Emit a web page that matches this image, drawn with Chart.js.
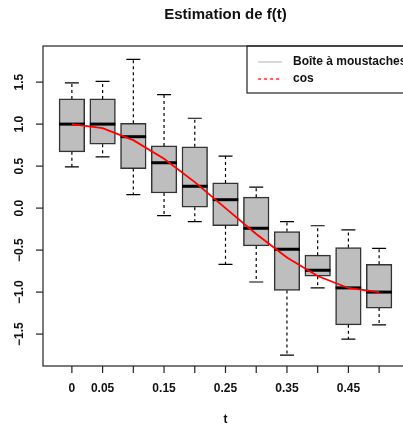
<!DOCTYPE html>
<html>
<head>
<meta charset="utf-8">
<script src="https://cdn.jsdelivr.net/npm/chart.js@4.4.0/dist/chart.umd.min.js"></script>
<style>
  html, body { margin: 0; padding: 0; background: #fff; overflow: hidden; }
  .wrap { width: 403px; height: 428px; overflow: hidden; }
</style>
</head>
<body>
<div class="wrap"><canvas id="myChart" width="410" height="428"></canvas></div>
<script>
// t values (one box per value) and the tick labels R kept on the axis
const tValues = ["0", "0.05", "0.1", "0.15", "0.2", "0.25", "0.3", "0.35", "0.4", "0.45", "0.5"];
const tickLabels = ["0", "0.05", "", "0.15", "", "0.25", "", "0.35", "", "0.45", ""];

// box statistics
const whiskerLow = [0.49, 0.61, 0.16, -0.09, -0.16, -0.67, -0.88, -1.75, -0.95, -1.56, -1.39];
const q1 = [0.67, 0.76, 0.47, 0.18, 0.01, -0.21, -0.45, -0.98, -0.81, -1.39, -1.19];
const median = [1.0, 1.0, 0.85, 0.54, 0.26, 0.10, -0.24, -0.49, -0.74, -0.95, -1.0];
const q3 = [1.30, 1.30, 1.01, 0.74, 0.73, 0.30, 0.13, -0.28, -0.56, -0.47, -0.67];
const whiskerHigh = [1.49, 1.51, 1.77, 1.35, 1.07, 0.62, 0.25, -0.16, -0.21, -0.26, -0.48];

// cos curve values at each t
const cosValues = [1.0, 0.951, 0.809, 0.588, 0.309, 0.0, -0.309, -0.588, -0.809, -0.951, -1.0];

const yTicks = [-1.5, -1.0, -0.5, 0.0, 0.5, 1.0, 1.5];

const FONT = "'Liberation Sans', Arial, sans-serif";

const boxData = tValues.map((t, i) => ({ x: i + 1, y: [q1[i], q3[i]] }));
const cosData = tValues.map((t, i) => ({ x: i + 1, y: cosValues[i] }));

// whiskers + medians, drawn right after the boxes (under the cos line)
const boxExtras = {
  id: "boxExtras",
  afterDatasetDraw(chart, args) {
    if (args.index !== 0) return;
    const ctx = chart.ctx;
    const x = chart.scales.x;
    const y = chart.scales.y;
    const halfBox = 12.8;
    const halfCap = 7;
    ctx.save();
    tValues.forEach((t, i) => {
      const px = x.getPixelForValue(i + 1);
      // dashed whiskers
      ctx.strokeStyle = "#000";
      ctx.lineWidth = 1.2;
      ctx.setLineDash([3, 3]);
      ctx.beginPath();
      ctx.moveTo(px, y.getPixelForValue(q3[i]));
      ctx.lineTo(px, y.getPixelForValue(whiskerHigh[i]));
      ctx.moveTo(px, y.getPixelForValue(q1[i]));
      ctx.lineTo(px, y.getPixelForValue(whiskerLow[i]));
      ctx.stroke();
      // caps
      ctx.setLineDash([]);
      ctx.beginPath();
      ctx.moveTo(px - halfCap, y.getPixelForValue(whiskerHigh[i]));
      ctx.lineTo(px + halfCap, y.getPixelForValue(whiskerHigh[i]));
      ctx.moveTo(px - halfCap, y.getPixelForValue(whiskerLow[i]));
      ctx.lineTo(px + halfCap, y.getPixelForValue(whiskerLow[i]));
      ctx.stroke();
      // median
      ctx.lineWidth = 3;
      ctx.beginPath();
      ctx.moveTo(px - halfBox, y.getPixelForValue(median[i]));
      ctx.lineTo(px + halfBox, y.getPixelForValue(median[i]));
      ctx.stroke();
    });
    ctx.restore();
  },
};

// R style frame, ticks, labels, title and legend
const rFrame = {
  id: "rFrame",
  afterDraw(chart) {
    const ctx = chart.ctx;
    const area = chart.chartArea;
    const x = chart.scales.x;
    const y = chart.scales.y;
    ctx.save();
    ctx.strokeStyle = "#222";
    ctx.lineWidth = 1.2;
    ctx.strokeRect(area.left, area.top, area.right - area.left, area.bottom - area.top);

    ctx.fillStyle = "#111";
    ctx.font = "bold 12px " + FONT;

    // y ticks, labels turned 90 degrees
    yTicks.forEach((v) => {
      const py = y.getPixelForValue(v);
      ctx.beginPath();
      ctx.moveTo(area.left, py);
      ctx.lineTo(area.left - 7, py);
      ctx.stroke();
      ctx.save();
      ctx.translate(20, py);
      ctx.rotate(-Math.PI / 2);
      ctx.textAlign = "center";
      ctx.textBaseline = "middle";
      ctx.fillText(v === 0 ? "0.0" : v.toFixed(1).replace("-", "\u2212"), 0, 0);
      ctx.restore();
    });

    // x ticks
    ctx.textAlign = "center";
    ctx.textBaseline = "middle";
    tValues.forEach((t, i) => {
      const px = x.getPixelForValue(i + 1);
      ctx.beginPath();
      ctx.moveTo(px, area.bottom);
      ctx.lineTo(px, area.bottom + 7);
      ctx.stroke();
      if (tickLabels[i]) ctx.fillText(tickLabels[i], px, 389);
    });

    // axis title
    ctx.fillText("t", (area.left + area.right) / 2, 420);

    // main title
    ctx.font = "bold 15px " + FONT;
    ctx.fillText("Estimation de f(t)", (area.left + area.right) / 2, 15);

    // legend
    ctx.lineWidth = 1.2;
    ctx.strokeStyle = "#222";
    ctx.strokeRect(247, area.top, 200, 47);
    ctx.strokeStyle = "#bebebe";
    ctx.beginPath();
    ctx.moveTo(258, 62);
    ctx.lineTo(282, 62);
    ctx.stroke();
    ctx.strokeStyle = "#ff0000";
    ctx.setLineDash([3, 3]);
    ctx.beginPath();
    ctx.moveTo(258, 79);
    ctx.lineTo(282, 79);
    ctx.stroke();
    ctx.setLineDash([]);
    ctx.font = "bold 12px " + FONT;
    ctx.textAlign = "left";
    ctx.fillText("Boîte à moustaches", 293, 62);
    ctx.fillText("cos", 293, 79);
    ctx.restore();
  },
};

new Chart(document.getElementById("myChart"), {
  data: {
    datasets: [
      {
        type: "bar",
        label: "Boîte à moustaches",
        data: boxData,
        backgroundColor: "#bebebe",
        borderColor: "#333",
        borderWidth: 1.5,
        borderSkipped: false,
        barThickness: 25.6,
        order: 2,
      },
      {
        type: "line",
        label: "cos",
        data: cosData,
        borderColor: "#ff0000",
        borderWidth: 1.8,
        pointRadius: 0,
        tension: 0,
        order: 1,
      },
    ],
  },
  options: {
    responsive: false,
    animation: false,
    layout: { padding: { left: 43, top: 46, right: 2, bottom: 62 } },
    plugins: {
      legend: { display: false },
      tooltip: { enabled: false },
    },
    scales: {
      x: { type: "linear", min: 0.06, max: 11.94, offset: false, display: false },
      y: { type: "linear", min: -1.88, max: 1.93, display: false },
    },
  },
  plugins: [boxExtras, rFrame],
});
</script>
</body>
</html>
